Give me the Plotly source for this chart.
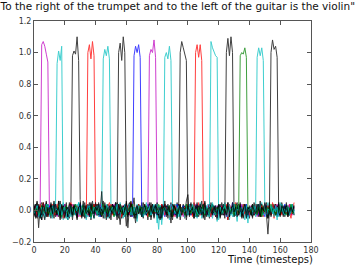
import plotly.graph_objects as go

# ---------------- data ----------------
timesteps = list(range(170))

words = ["To", "the", "right", "of", "the", "trumpet", "and", "to",
         "the", "left", "of", "the", "guitar", "is", "the", "violin"]

word_colors = {"To": "#bf00bf", "to": "#bf00bf", "the": "#00bfbf", "of": "#ff0000",
               "right": "#000000", "trumpet": "#000000", "left": "#000000",
               "guitar": "#000000", "violin": "#000000", "and": "#0000ff", "is": "#008000"}

pulse_start = [5, 15, 25, 35, 45, 55, 65, 75, 85, 95, 105, 115, 125, 134, 145, 154]

pulse_vals = [
    [1.05, 1.07, 1.04, 0.99, 0.94],
    [0.93, 1.01, 0.95, 1.04],
    [0.98, 1.01, 0.99, 1.10, 0.95],
    [1.00, 1.05, 0.96, 1.07, 0.98],
    [0.96, 1.02, 0.98, 1.04, 0.96],
    [1.00, 1.06, 0.95, 1.10, 1.00],
    [0.98, 1.04, 1.00, 1.05, 0.97],
    [0.98, 1.02, 1.00, 1.08, 0.97],
    [0.97, 1.00, 0.96, 1.04, 0.95],
    [1.00, 1.07, 1.03, 0.98, 0.95],
    [1.00, 1.05, 0.97, 1.05, 0.95],
    [1.07, 1.03, 1.00, 0.98, 0.97],
    [1.00, 1.09, 0.98, 1.10, 1.00],
    [0.98, 1.00, 0.99, 1.03, 0.97],
    [0.97, 1.03, 0.98, 1.03, 0.95],
    [1.00, 1.08, 1.02, 1.04, 0.97],
]

# background activation of each word, in hundredths
noise_01 = [3,-2,1,-4,2,0,-1,3,-3,1, 2,-1,-3,4,0,-2,1,2,-4,3, -1,0,2,-3,1,4,-2,-1,3,0, -2,1,-1,2,-3,0,3,-2,1,-1,
            4,-3,0,2,-1,-2,3,1,-4,2, 0,-1,2,-2,3,-3,1,0,-1,4, -2,1,3,-3,0,2,-1,-2,1,3, -4,0,2,-1,1,-3,2,0,3,-2,
            1,-1,-3,2,4,-2,0,1,-1,3, -2,2,-4,1,0,3,-1,-2,2,-1, 3,-3,1,0,-2,4,-1,2,-3,1, 0,-2,3,-1,2,-4,1,0,-1,3,
            -2,1,2,-3,0,1,-2,4,-1,0, 2,-3,1,-1,3,-2,0,2,-4,1, -1,3,-2,0,1,-3,4,-1,2,-2, 0,1,-3,2,-1,3,-2,0,4,-3,
            1,-1,2,-2,0,3,-1,1,-3,2]
noise_02 = [-2,4,1,-3,-1,3,0,-5,2,1, -1,3,-2,0,4,-1,-3,2,1,-6, 2,-1,0,3,-4,1,2,-2,0,5, -3,1,-1,2,0,-4,3,1,-2,0,
            2,-3,4,-1,1,-2,0,3,-5,2, 1,-1,3,-2,-4,2,0,1,-3,4, 0,-2,1,3,-1,-3,2,0,4,-2, 1,-4,2,-1,3,0,-2,1,-1,2,
            -8,3,0,-2,1,4,-3,1,-1,0, 3,-2,2,-5,1,0,-1,3,-2,4, -1,1,-3,2,0,-2,3,-1,5,-3, 0,2,-1,-4,3,1,-2,0,2,-1,
            4,-3,1,0,-2,3,-1,-6,2,1, -1,3,-2,2,0,-3,4,1,-2,0, 1,-2,3,-1,-3,2,0,4,-1,-2, 3,0,-4,2,1,-1,3,-2,0,2,
            -1,4,-3,1,-2,0,3,-1,2,-3]
noise_03 = [2,-4,6,-11,3,5,-2,-6,4,1, -3,5,-1,-5,3,2,-4,6,-2,0, 4,-3,-6,2,5,1,0,-2,3,-4, 7,-5,1,3,-3,-1,5,-6,2,4,
            -2,0,3,-4,1,6,-3,-1,4,-5, 2,1,-3,5,-2,0,-9,3,1,-4, 6,-2,-3,4,-1,2,-5,3,0,-2, 5,-4,1,2,-6,3,-1,4,-3,0,
            2,-5,3,1,-2,6,-4,0,3,-1, -3,4,-2,5,-1,-4,2,0,3,-6, 1,4,-2,-3,5,-1,2,-4,3,0, -2,6,-3,1,-5,2,4,-1,-3,2,
            0,-4,5,-2,1,3,-6,2,0,-1, 4,-3,2,-1,5,-4,0,3,-2,1, -5,2,4,-3,0,1,-2,6,-4,2, -1,3,-5,2,0,4,-3,1,-2,5,
            -3,0,2,-4,3,-1,1,-2,4,-3]
noise_04 = [1,3,-2,0,-4,2,5,-1,-3,2, 0,-2,4,1,-3,-1,3,-5,2,0, -1,2,-3,4,1,-2,0,3,-4,1, 2,-1,3,-2,-5,4,0,1,-3,2,
            -2,4,-1,0,3,-3,1,-4,2,5, -1,-3,2,1,-2,4,-4,0,3,-1, 2,-2,0,5,-3,1,-1,3,-2,0, -3,2,4,-1,0,-2,3,1,-4,2,
            1,-3,0,2,-1,4,-2,-3,1,3, 0,-4,2,-1,3,1,-2,0,-5,2, 4,-1,1,-3,2,0,-2,5,-3,1, -1,3,-2,0,4,-4,1,2,-1,-6,
            3,0,-2,1,-3,4,-1,2,0,-2, 1,5,-3,-1,2,0,-4,3,1,-2, -1,2,0,-3,4,-2,1,-1,3,-4, 2,0,-2,3,-1,1,-5,4,0,-2,
            3,-1,2,-3,1,0,4,-2,-1,5]
noise_05 = [-3,1,2,-1,4,-2,0,3,-4,-1, 2,0,-3,5,-1,1,-2,-4,3,0, 1,-5,2,-1,3,-2,0,4,-3,1, -2,3,0,-1,-6,2,1,-3,4,0,
            -1,2,-4,3,1,-2,0,2,-3,1, 4,-1,0,-3,2,-2,3,1,-5,2, 0,-1,3,-4,1,2,-2,0,4,-3, 1,-2,-1,3,0,-4,2,1,-1,3,
            -2,0,2,-9,4,1,-3,2,-1,0, 3,-2,1,-1,-4,2,0,3,-2,1, -1,4,-3,0,2,-1,-5,3,1,-2, 0,2,-3,4,-1,1,-2,0,3,-7,
            2,-1,1,-3,5,0,-2,2,-1,3, -4,1,0,2,-2,3,-1,-6,4,0, 1,-3,2,-1,0,4,-2,1,-3,2, -1,0,5,-3,1,-2,3,-1,0,-4,
            2,1,-2,3,-1,0,-3,2,4,-2]
noise_06 = [-4,2,5,-3,1,-6,3,0,-2,4, 1,-5,3,2,-1,-3,6,-2,0,3, -4,1,2,-5,4,-1,0,3,-3,2, 5,-2,-4,1,3,0,-3,5,-1,-2,
            2,4,-3,0,12,-5,1,3,-2,-4, 3,0,-1,5,-3,2,-4,1,0,-2, 6,-11,2,4,-3,1,-1,-5,3,2, -2,0,4,-3,1,5,-4,2,0,-1,
            3,-2,-5,4,1,-1,2,-3,0,5, -4,2,1,-2,3,-6,0,4,-1,2, -3,1,5,-2,0,-4,3,1,-1,2, -5,3,0,-2,4,1,-3,2,-1,0,
            4,-2,1,-3,2,0,5,-4,1,-1, 2,-3,0,4,-1,2,-5,1,3,-2, 0,-1,4,-3,2,1,-4,0,3,-2, 1,5,-2,0,-3,2,-1,4,-4,1,
            0,-2,3,-1,2,-4,1,3,-2,0]
noise_07 = [1,-2,0,3,-1,-3,2,1,-2,0, 3,-1,-2,1,4,-3,0,2,-1,1, -2,3,-4,0,1,2,-1,-3,2,0, 4,-2,1,-1,0,3,-3,2,-2,1,
            -1,0,2,-4,3,1,-2,0,1,-3, 2,4,-1,-2,0,3,-3,1,2,-1, 0,-2,3,1,-4,2,-1,0,3,-2, 1,-1,2,-3,4,0,-2,1,-1,3,
            -3,2,0,1,-2,-4,3,1,0,-1, 2,-3,1,4,-2,0,-1,3,-2,1, -1,2,-3,0,1,3,-4,2,0,-2, 3,1,-1,-2,2,0,4,-3,1,-1,
            -2,0,3,-1,2,-4,1,0,-2,5, 1,-3,2,0,-1,3,-2,1,4,-4, 0,2,-1,-2,3,1,-3,0,2,-1, -4,3,1,-2,0,2,-1,3,-3,1,
            2,-1,0,4,-2,1,-3,2,-1,0]
noise_08 = [-1,3,-4,2,0,1,-2,4,-3,1, 0,-2,2,-1,3,-4,1,0,2,-3, 4,-1,-2,3,0,-3,2,1,-1,-4, 2,0,3,-2,1,-1,-4,3,0,2,
            -3,1,-1,4,-2,0,2,-3,1,3, -2,-1,4,0,-3,2,1,-2,3,-1, 1,3,-2,-4,2,0,-1,3,-2,1, 0,-3,2,1,-1,4,-2,0,3,-3,
            2,1,-4,0,3,-1,2,-2,-1,4, -3,0,1,2,-2,3,-1,-4,2,0, 1,-2,3,-1,0,-3,4,1,-2,2, -1,0,-3,2,4,-2,1,-1,3,-4,
            0,2,-1,3,-2,1,-4,0,2,-1, 3,-2,1,-3,0,4,-1,2,-2,0, -3,1,2,-1,3,-4,0,2,1,-2, 4,-1,-3,2,0,1,-2,3,-1,-3,
            1,2,-2,0,3,-1,4,-3,2,1]
noise_09 = [2,-3,1,0,-5,3,-1,2,-2,4, -4,1,3,-2,0,2,-3,1,-1,5, -2,0,-6,3,1,-1,2,-3,4,0, 1,-2,3,-4,2,0,-1,3,-2,-5,
            3,1,-2,0,4,-3,1,-1,2,-2, 0,3,-4,2,-1,1,5,-3,0,-2, 2,-1,1,-3,4,-2,0,-7,3,1, -1,2,-3,5,0,-2,1,3,-4,2,
            0,-12,3,1,-2,4,-1,0,2,-3, 1,-2,4,-1,-3,2,0,1,-5,3, -2,2,0,-1,3,-4,1,2,-2,0, 4,-3,1,-1,2,0,-5,3,1,-2,
            -1,3,-2,4,0,-3,2,-1,1,-4, 2,0,-7,3,1,-2,4,-1,-3,2, 0,1,-2,3,-4,2,-1,0,5,-3, 1,-1,2,-3,0,4,-2,1,-6,3,
            -1,2,0,-3,4,-1,1,-2,3,0]
noise_10 = [3,-5,1,4,-2,-6,2,0,5,-3, -1,4,-4,2,1,-3,6,-2,-5,3, 0,2,-4,5,-1,-3,3,1,-6,2, 4,-2,0,-5,3,2,-1,-4,6,-2,
            1,-3,5,-1,-4,2,0,3,-2,1, -6,4,2,-3,1,-1,4,-5,2,3, -10,2,5,-4,1,8,-3,-2,4,0, 2,-5,3,1,-2,4,-6,0,3,-1,
            5,-3,1,-4,2,0,3,-5,1,-8, 4,2,-3,0,-1,3,-4,2,5,-2, 0,-3,4,1,-5,2,-1,3,-2,6, -4,1,0,-3,4,2,-2,-1,3,-5,
            2,4,-3,1,0,-2,5,-4,1,3, -1,-3,2,0,4,-5,1,2,-3,1, 3,-2,-4,5,0,-1,2,-3,4,-2, 1,3,-5,2,-1,0,4,-3,1,-2,
            -3,5,0,-2,3,-4,1,2,-1,3]
noise_11 = [0,2,-3,1,4,-2,-1,3,0,-4, 2,-1,1,-3,0,4,-2,1,3,-5, -1,2,0,-3,5,1,-2,-1,3,0, -4,2,1,-1,3,-3,0,2,-2,4,
            1,-3,2,0,-1,3,-5,1,2,-2, 4,0,-3,1,-2,3,2,-4,0,1, -1,3,-2,5,-3,0,1,-2,4,-1, -3,2,0,1,-4,3,-1,2,-2,0,
            3,-1,-2,4,0,-3,2,1,-5,2, -1,0,3,-2,1,4,-3,0,2,-1, -2,3,1,-4,0,2,-1,3,-3,1, 5,-2,0,-1,3,-3,2,1,-4,0,
            2,-1,3,-2,0,1,-6,4,1,-2, -1,3,0,-3,2,-1,4,-2,1,0, -3,2,1,-2,4,0,-1,-4,3,1, -2,0,3,-1,-3,5,1,-2,0,2,
            4,-3,1,0,-2,3,-1,-5,2,1]
noise_12 = [-1,0,3,-2,1,-4,2,0,-1,3, 1,-3,2,-1,4,0,-2,1,-5,2, 0,3,-1,-2,2,-4,1,3,0,-1, -3,2,4,-1,0,-2,3,-5,1,2,
            -1,3,0,-3,2,1,-2,4,-1,-4, 2,0,-2,3,1,-1,-4,2,0,3, -2,1,4,-3,0,2,-1,-2,3,1, 0,-4,2,1,-1,3,-3,0,2,-1,
            4,-2,1,0,-3,2,-1,3,-6,1, 2,-1,0,-4,3,1,-2,2,0,-3, 1,4,-2,0,-1,3,-3,1,2,-5, 3,-1,0,2,-2,1,4,-3,0,-1,
            -6,2,1,-2,3,0,-1,4,-3,2, 0,-2,3,1,-4,2,-1,0,3,-8, 2,1,-3,0,2,-1,4,-2,1,-3, 0,3,-2,1,-1,2,-4,3,0,-2,
            5,-1,1,-3,2,0,-2,4,-1,1]
noise_13 = [-3,4,-1,2,-5,3,0,-2,6,-4, 1,3,-3,-1,4,-2,2,-6,3,1, -2,5,-4,0,2,-3,4,1,-5,2, 0,-3,6,-2,1,4,-4,-1,3,-2,
            5,-3,0,2,-4,1,3,-6,2,0, -1,4,-3,2,5,-5,1,-2,3,0, 2,-4,1,6,-3,0,-8,3,-1,2, -4,5,0,-3,2,1,-2,4,-5,3,
            1,-2,-6,3,0,4,-3,1,2,-4, -2,3,1,-5,4,0,-1,2,-3,6, 10,-4,1,3,-2,0,5,-3,-1,2, 4,-6,2,0,-3,5,-1,2,-4,1,
            3,-2,0,4,-5,2,1,-3,3,-1, -4,2,5,-3,0,1,-2,4,-1,-3, 2,0,-5,3,1,-2,4,-4,2,0, -1,3,-2,5,-4,1,0,-3,2,4,
            -2,1,-4,3,0,2,-3,1,-1,2]
noise_14 = [1,-1,2,-3,0,3,-2,1,4,-2, 0,-3,1,2,-1,-2,3,0,-4,2, 1,3,-2,-1,0,2,-3,4,-1,1, -2,0,3,-3,1,-1,2,-4,3,0,
            2,-2,1,0,-3,4,-1,2,-2,-1, 3,1,-4,2,0,-1,3,-2,1,2, -3,0,2,-1,4,-3,1,0,-2,3, 1,-2,0,3,-1,-4,2,1,-1,0,
            -2,4,1,-3,2,0,-1,-2,3,1, -4,2,0,1,-2,3,-1,0,-3,4, 2,-1,-2,3,0,1,-4,2,-1,0, 3,-3,2,1,-2,0,4,-1,-3,2,
            0,1,-2,-1,3,-2,0,2,-1,1, -3,4,0,-2,1,3,-1,-2,2,0, 1,-2,3,-1,0,-3,2,1,-4,3, -1,0,2,-2,4,-1,1,-3,0,2,
            -2,3,1,-1,-3,2,0,4,-2,1]
noise_15 = [-2,1,3,-4,0,2,-1,-3,4,1, -1,2,-5,3,0,1,-2,4,-3,0, 2,-1,1,-4,3,0,-2,2,-1,5, -3,0,2,-1,-4,3,1,0,-2,2,
            1,-3,4,0,-1,2,-5,1,3,-2, 0,2,-1,-3,4,-2,1,0,2,-4, 3,-1,0,2,-3,1,-2,4,-1,0, -4,3,1,-2,0,2,-3,1,4,-1,
            0,-2,3,-6,1,2,-1,0,-3,4, 2,-1,-2,1,3,-4,0,2,-1,1, -3,2,0,4,-2,1,-1,-3,2,0, 1,-2,3,0,-4,2,5,-1,-3,1,
            0,2,-2,1,3,-1,-4,2,0,-2, 4,-3,1,0,2,-1,-2,3,-5,1, 0,2,-1,3,-2,-3,1,4,0,-1, 2,-4,1,0,3,-2,1,-1,2,-3,
            0,4,-2,1,-1,3,-3,0,2,-1]
noise_16 = [4,-2,-5,3,1,-3,5,0,-4,2, -1,3,-2,6,-4,0,2,-3,4,-1, -5,2,1,-2,4,-6,3,0,-1,2, 3,-4,1,5,-2,0,-3,4,-1,-5,
            2,0,4,-3,1,-2,5,-1,-4,3, 0,-2,3,1,-6,4,-1,2,-3,0, 5,-3,-1,4,2,-5,0,3,-2,1, -4,2,3,-1,0,-3,5,-2,1,4,
            -3,0,2,-5,3,1,-2,4,-1,0, -6,3,1,-2,0,4,-3,2,1,-4, 3,-1,0,2,-5,3,1,-2,4,-3, 0,5,-4,1,2,-1,-3,3,0,-2,
            4,-5,2,0,1,-3,3,-1,-2,5, -1,2,-4,0,3,-2,1,4,-5,2, 0,-3,3,1,-2,4,-1,-4,2,0, 5,-2,-15,0,3,-1,4,-3,2,-1,
            -4,3,1,-2,5,-3,0,2,-1,3]

noise_all = [noise_01, noise_02, noise_03, noise_04, noise_05, noise_06, noise_07, noise_08,
             noise_09, noise_10, noise_11, noise_12, noise_13, noise_14, noise_15, noise_16]

x_ticks = [0, 20, 40, 60, 80, 100, 120, 140, 160, 180]
y_ticks = [-0.2, 0.0, 0.2, 0.4, 0.6, 0.8, 1.0, 1.2]

title_text = 'To the right of the trumpet and to the left of the guitar is the violin"'
xlabel_text = "Time (timesteps)"

# ---------------- figure ----------------
fig = go.Figure()
for i, w in enumerate(words):
    y = [v * 0.01 for v in noise_all[i]]
    for j, v in enumerate(pulse_vals[i]):
        y[pulse_start[i] + j] = v
    fig.add_trace(go.Scatter(x=timesteps, y=y, mode="lines", name=w,
                             line=dict(color=word_colors[w], width=1), opacity=0.75,
                             showlegend=False))

axis_common = dict(showline=True, linecolor="#555555", linewidth=1, mirror="allticks",
                   ticks="inside", ticklen=4, tickcolor="#555555", showgrid=False,
                   zeroline=False, tickfont=dict(family="DejaVu Sans", size=8, color="#333333"))

fig.update_layout(
    width=358, height=267,
    margin=dict(l=26, r=47, t=21, b=25),
    paper_bgcolor="white", plot_bgcolor="white",
    xaxis=dict(range=[0, 180], tickvals=x_ticks, **axis_common),
    yaxis=dict(range=[-0.2, 1.2], tickvals=y_ticks, tickformat=".1f", **axis_common),
    title=dict(text=title_text, x=355 / 358, xanchor="right", xref="container",
               y=1 - 6 / 267, yref="container", yanchor="middle",
               font=dict(family="DejaVu Sans", size=10.5, color="#111111")),
    annotations=[dict(text=xlabel_text, xref="paper", yref="paper",
                      x=(315 - 26) / 285, y=(242 - 259) / 221, xanchor="right", yanchor="middle",
                      showarrow=False, font=dict(family="DejaVu Sans", size=10, color="#111111"))],
)

fig.write_html("out.html")
